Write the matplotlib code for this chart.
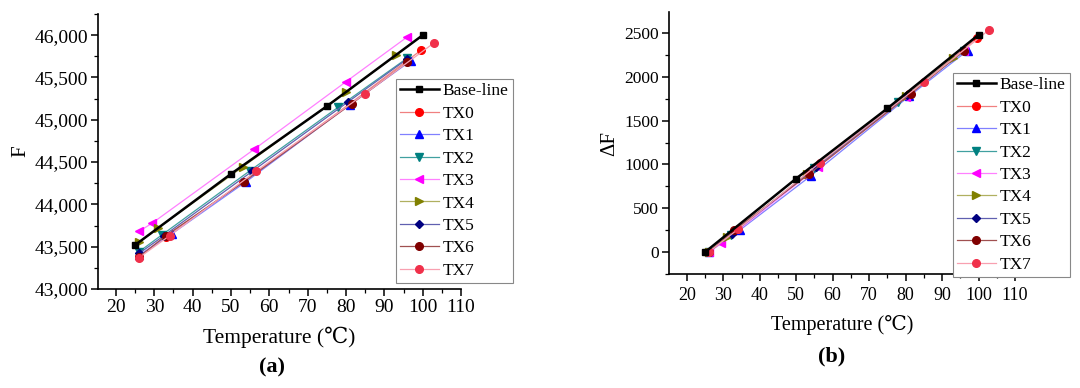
import matplotlib.pyplot as plt
import numpy as np
from matplotlib.ticker import FuncFormatter, MultipleLocator

plt.rcParams['font.family'] = ['Liberation Serif', 'DejaVu Serif']

# series data: temperature (C) and frequency F
labels = ['Base-line', 'TX0', 'TX1', 'TX2', 'TX3', 'TX4', 'TX5', 'TX6', 'TX7']

t_base = [25, 50, 75, 100]
f_base = [43520, 44360, 45160, 46000]

t_tx0 = [26, 33, 53, 81, 99.5]
f_tx0 = [43380, 43620, 44260, 45190, 45820]

t_tx1 = [26, 34.5, 54, 81, 97]
f_tx1 = [43400, 43650, 44270, 45180, 45700]

t_tx2 = [26, 32, 55, 78, 96]
f_tx2 = [43440, 43640, 44400, 45150, 45730]

t_tx3 = [26, 29.5, 56, 80, 96]
f_tx3 = [43680, 43780, 44650, 45450, 45980]

t_tx4 = [26, 31, 53, 80, 93]
f_tx4 = [43550, 43720, 44440, 45330, 45760]

t_tx5 = [26, 32.5, 55.5, 80.5, 96]
f_tx5 = [43420, 43630, 44390, 45210, 45720]

t_tx6 = [26, 33, 53.5, 81.5, 96]
f_tx6 = [43380, 43630, 44270, 45190, 45680]

t_tx7 = [26, 34, 56.5, 85, 103]
f_tx7 = [43370, 43630, 44390, 45310, 45910]

temps = [t_base, t_tx0, t_tx1, t_tx2, t_tx3, t_tx4, t_tx5, t_tx6, t_tx7]
freqs = [f_base, f_tx0, f_tx1, f_tx2, f_tx3, f_tx4, f_tx5, f_tx6, f_tx7]

colors = ['black', '#ff0000', '#0000ff', '#008080', '#ff00ff', '#808000', '#000080', '#800000', '#f0304a']
line_colors = ['black', '#f08080', '#8080ff', '#40a0a0', '#ff80ff', '#b0b060', '#6060b0', '#a05050', '#f8a0b0']
markers = ['s', 'o', '^', 'v', '<', '>', 'D', 'o', 'o']

fig = plt.figure(figsize=(10.8, 3.88), dpi=100)
ax1 = fig.add_axes([0.0907, 0.2552, 0.3362, 0.7087])
ax2 = fig.add_axes([0.6194, 0.2938, 0.3204, 0.6752])


def style_axes(ax):
    for s in ['top', 'right']:
        ax.spines[s].set_visible(False)
    for s in ['left', 'bottom']:
        ax.spines[s].set_linewidth(1.2)
    ax.tick_params(which='major', direction='out', length=5, width=1.1)
    ax.tick_params(which='minor', direction='out', length=3, width=0.9)
    ax.xaxis.set_major_locator(MultipleLocator(10))
    ax.xaxis.set_minor_locator(MultipleLocator(5))


for i in range(len(labels)):
    t = np.array(temps[i])
    f = np.array(freqs[i])
    lw = 1.8 if i == 0 else 0.9
    ms = {'D': 4.5, 's': 5}.get(markers[i], 5.5)
    ax1.plot(t, f, color=line_colors[i], lw=lw, marker=markers[i], ms=ms,
             mfc=colors[i], mec=colors[i], label=labels[i], zorder=11 if i == 0 else 5)
    df = f - f[0]
    ax2.plot(t, df, color=line_colors[i], lw=lw, marker=markers[i], ms=ms,
             mfc=colors[i], mec=colors[i], label=labels[i], zorder=11 if i == 0 else 5)

style_axes(ax1)
ax1.set_xlim(15.3, 110)
ax1.set_ylim(43000, 46250)
ax1.yaxis.set_major_locator(MultipleLocator(500))
ax1.yaxis.set_minor_locator(MultipleLocator(250))
ax1.yaxis.set_major_formatter(FuncFormatter(lambda v, p: f'{v:,.0f}'))
ax1.tick_params(labelsize=14, pad=2)
ax1.set_xlabel('Temperature (℃)', fontsize=15.5, labelpad=8)
ax1.set_ylabel('F', fontsize=15, labelpad=3)

style_axes(ax2)
ax2.set_xlim(15.1, 110)
ax2.set_ylim(-250, 2740)
ax2.yaxis.set_major_locator(MultipleLocator(500))
ax2.yaxis.set_minor_locator(MultipleLocator(250))
ax2.tick_params(axis='x', labelsize=13, pad=4)
ax2.tick_params(axis='y', labelsize=12.5, pad=2)
ax2.set_xlabel('Temperature (℃)', fontsize=14.5, labelpad=8)
ax2.set_ylabel('ΔF', fontsize=15, labelpad=4)

leg_kw = dict(loc='upper left', bbox_transform=fig.transFigure, fontsize=12.5,
              frameon=True, fancybox=False, edgecolor='#888888', framealpha=1,
              handlelength=2.2, handletextpad=0.25, labelspacing=0.36,
              borderpad=0.25, borderaxespad=0)
leg1 = ax1.legend(bbox_to_anchor=(0.3667, 0.7964), **leg_kw)
leg2 = ax2.legend(bbox_to_anchor=(0.8824, 0.8119), **leg_kw)
for leg in (leg1, leg2):
    leg.get_frame().set_linewidth(0.8)
    leg.set_zorder(20)

fig.text(272 / 1080, 1 - 367 / 388, '(a)', ha='center', va='center', fontsize=16, fontweight='bold')
fig.text(832 / 1080, 1 - 356 / 388, '(b)', ha='center', va='center', fontsize=16, fontweight='bold')

fig.savefig('out.png', dpi=100)
